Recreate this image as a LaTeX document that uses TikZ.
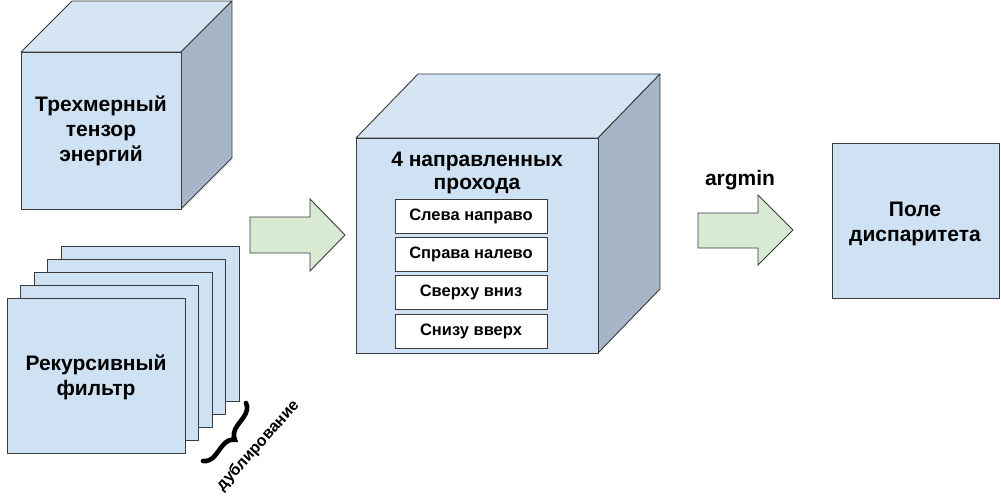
\documentclass[tikz,border=0pt]{standalone}
\usepackage{fontspec}
\setmainfont{Liberation Sans}
\usetikzlibrary{decorations.pathreplacing}
\definecolor{frontblue}{HTML}{CFE2F3}
\definecolor{topblue}{HTML}{D6E5F4}
\definecolor{sideblue}{HTML}{A6B6C6}
\definecolor{arrowgreen}{HTML}{D9EAD3}
\definecolor{edge}{HTML}{3A3A3A}
\tikzset{
  face/.style={draw=edge, line width=0.9pt, line join=round},
  bigtxt/.style={font=\fontsize{21}{25}\selectfont\bfseries, align=center, inner sep=0pt},
  passbox/.style={draw=edge, line width=0.9pt, fill=white, minimum width=152pt, minimum height=34pt, inner sep=0pt, font=\fontsize{16.5}{18}\selectfont\bfseries},
  blockarrow/.style={draw=edge, line width=0.9pt, fill=arrowgreen, line join=miter}
}
\begin{document}
\begin{tikzpicture}[x=1pt,y=-1pt]
\useasboundingbox (0,0) rectangle (1001,499);
% ---- cube 1
\fill[topblue, face] (21,52) -- (72,1) -- (232,1) -- (181,52) -- cycle;
\fill[sideblue, face] (181,52) -- (232,1) -- (232,158) -- (181,209) -- cycle;
\draw[face, fill=frontblue] (21,52) rectangle (181,209);
\node[bigtxt] (tensor) at (101,131) {Трехмерный\\тензор\\энергий};
% ---- stack of filters
\foreach \i in {4,3,2,1,0}{
  \draw[face, fill=frontblue] (7+13.5*\i,298-13*\i) rectangle ++(178,155);
}
\node[bigtxt] (filter) at (96,377) {Рекурсивный\\фильтр};
\coordinate (bA) at (246,403);
\coordinate (bB) at (203,461);
\draw[line width=4.6pt, line cap=round, decorate, decoration={brace, amplitude=13pt}] (bA) -- (bB);
\node[font=\fontsize{16}{18}\selectfont\bfseries, rotate=48, inner sep=0pt] (dup) at (258,446) {дублирование};
% ---- arrow 1
\draw[blockarrow] (250,217) -- (310,217) -- (310,199) -- (345,235) -- (310,271) -- (310,253) -- (250,253) -- cycle;
% ---- cube 2
\fill[topblue, face] (356,138) -- (418,74) -- (660,74) -- (598,138) -- cycle;
\fill[sideblue, face] (598,138) -- (660,74) -- (660,289) -- (598,353) -- cycle;
\draw[face, fill=frontblue] (356,138) rectangle (598,353);
\node[bigtxt, font=\fontsize{21}{23}\selectfont\bfseries] (passes) at (477,173) {4 направленных\\прохода};
\node[passbox] (p1) at (471,216) {Слева направо};
\node[passbox] (p2) at (471,254.5) {Справа налево};
\node[passbox] (p3) at (471,292.5) {Сверху вниз};
\node[passbox] (p4) at (471,331) {Снизу вверх};
% ---- arrow 2
\draw[blockarrow] (698,213) -- (758,213) -- (758,195) -- (793,230) -- (758,265) -- (758,248) -- (698,248) -- cycle;
\node[bigtxt] (argmin) at (740,180) {argmin};
% ---- disparity field
\draw[face, fill=frontblue] (832,143) rectangle (999,298);
\node[bigtxt] (field) at (915,224) {Поле\\диспаритета};
\end{tikzpicture}
\end{document}
